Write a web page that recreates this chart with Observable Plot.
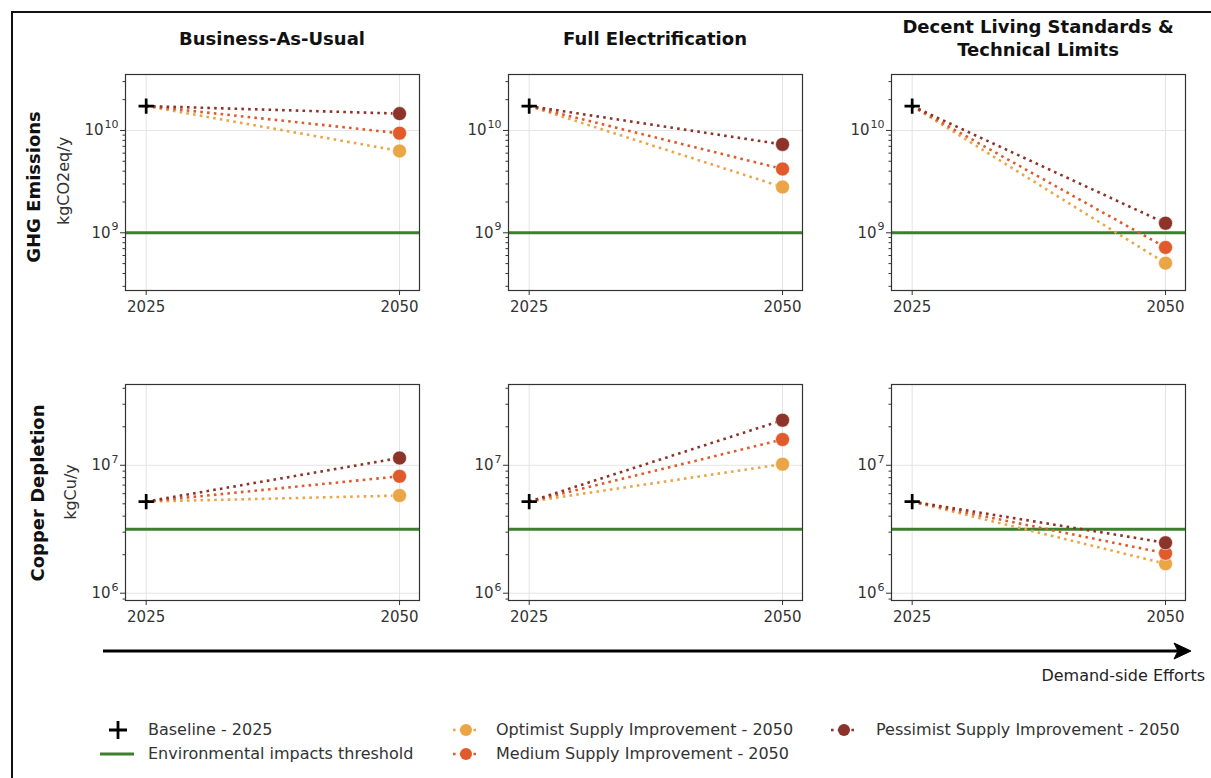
<!DOCTYPE html>
<html>
<head>
<meta charset="utf-8">
<script src="https://cdn.jsdelivr.net/npm/d3@7"></script>
<script src="https://cdn.jsdelivr.net/npm/@observablehq/plot@0.6"></script>
<style>
  html, body { margin: 0; padding: 0; background: #fff; }
  #fig { position: relative; width: 1211px; height: 778px; overflow: hidden; background: #fff;
         font-family: "DejaVu Sans", sans-serif; color: #222; }
  .border { position: absolute; left: 11px; top: 11px; width: 1400px; height: 1000px;
            border-left: 2px solid #111; border-top: 2px solid #111; }
  .title { position: absolute; font-family: "DejaVu Sans", sans-serif; font-weight: bold; font-size: 18px;
           line-height: 23px; text-align: center; color: #111; transform: translateX(-50%); white-space: nowrap; }
  .rowlab { position: absolute; white-space: nowrap; transform: translate(-50%, -50%) rotate(-90deg);
            color: #111; }
  .rowlab.big { font-weight: bold; font-size: 18px; }
  .rowlab.unit { font-size: 16px; color: #333; }
  .panel { position: absolute; }
  .leg { position: absolute; font-size: 16px; line-height: 20px; white-space: nowrap; color: #333; }
  .legicon { position: absolute; }
</style>
</head>
<body>
<div id="fig"><div class="border"></div></div>
<script>
// ---------------- data ----------------
const scenarios = ["Business-As-Usual", "Full Electrification", "Decent Living Standards & Technical Limits"];
const titleLines = [["Business-As-Usual"], ["Full Electrification"], ["Decent Living Standards &", "Technical Limits"]];
const years = [2025, 2050];
const seriesNames = ["Optimist Supply Improvement - 2050", "Medium Supply Improvement - 2050", "Pessimist Supply Improvement - 2050"];
const seriesColors = ["#EAA646", "#E05A2C", "#8C3429"];

// GHG Emissions (kgCO2eq/y)
const ghgBaseline = 1.73e10;
const ghgOptimist = [6.3e9, 2.8e9, 5.05e8];
const ghgMedium = [9.4e9, 4.2e9, 7.2e8];
const ghgPessimist = [1.46e10, 7.3e9, 1.24e9];
const ghgThreshold = 1e9;
const ghgTicks = [1e9, 1e10];
const ghgTickBase = ["10", "10"];
const ghgTickExp = ["9", "10"];
const ghgDomain = [2.73e8, 3.52e10];

// Copper Depletion (kgCu/y)
const cuBaseline = 5.2e6;
const cuOptimist = [5.8e6, 1.02e7, 1.7e6];
const cuMedium = [8.2e6, 1.59e7, 2.05e6];
const cuPessimist = [1.14e7, 2.25e7, 2.48e6];
const cuThreshold = 3.16e6;
const cuTicks = [1e6, 1e7];
const cuTickBase = ["10", "10"];
const cuTickExp = ["6", "7"];
const cuDomain = [8.77e5, 4.28e7];

const xTickLabels = ["2025", "2050"];
const xDomain = [2022.96, 2051.97];

const legendLabels = ["Baseline - 2025", "Environmental impacts threshold"];
const arrowLabel = "Demand-side Efforts";
const rowLabels = [["GHG Emissions", "kgCO2eq/y"], ["Copper Depletion", "kgCu/y"]];

// ---------------- layout ----------------
const fig = document.getElementById("fig");
const green = "#3E7F2E";
const PW = 294, PH = 216;
const ML = 62, MR = 14, MT = 12, MB = 40;
const panelLeft = [125, 508, 891];
const rowTop = [74, 384];
const tickFont = 15, expFont = 11;

function minorTicks(domain) {
  const out = [];
  const k0 = Math.floor(Math.log10(domain[0])), k1 = Math.ceil(Math.log10(domain[1]));
  for (let k = k0; k <= k1; k++) for (let m = 2; m <= 9; m++) {
    const v = m * Math.pow(10, k);
    if (v >= domain[0] && v <= domain[1]) out.push(v);
  }
  return out;
}

const rows = [
  {baseline: ghgBaseline, series: [ghgOptimist, ghgMedium, ghgPessimist], threshold: ghgThreshold,
   ticks: ghgTicks, base: ghgTickBase, exp: ghgTickExp, domain: ghgDomain},
  {baseline: cuBaseline, series: [cuOptimist, cuMedium, cuPessimist], threshold: cuThreshold,
   ticks: cuTicks, base: cuTickBase, exp: cuTickExp, domain: cuDomain}
];

rows.forEach((row, r) => {
  scenarios.forEach((sc, c) => {
    const marks = [
      Plot.ruleX(years, {x: d => d, stroke: "#e4e4e4", strokeWidth: 1}),
      Plot.ruleY(row.ticks, {y: d => d, stroke: "#e4e4e4", strokeWidth: 1}),
      Plot.ruleY([row.threshold], {y: d => d, stroke: green, strokeWidth: 3})
    ];
    row.series.forEach((vals, s) => {
      marks.push(Plot.link([vals[c]], {
        x1: () => years[0], y1: () => row.baseline, x2: () => years[1], y2: d => d,
        stroke: seriesColors[s], strokeWidth: 2.6, strokeDasharray: "2.6,4.2", strokeLinecap: "butt"
      }));
    });
    row.series.forEach((vals, s) => {
      marks.push(Plot.dot([vals[c]], {
        x: () => years[1], y: d => d, r: 7, fill: seriesColors[s], stroke: "#fff", strokeWidth: 0.6
      }));
    });
    marks.push(Plot.dot([row.baseline], {x: () => years[0], y: d => d, symbol: "plus", r: 5,
      stroke: "#000", strokeWidth: 2.7}));
    marks.push(Plot.frame({stroke: "#333", strokeWidth: 1.2}));
    marks.push(Plot.axisY(minorTicks(row.domain), {tickSize: 2.5, tickFormat: () => "", stroke: "#333", label: null}));
    marks.push(Plot.axisY(row.ticks, {tickSize: 5, tickFormat: () => "", stroke: "#333", label: null}));
    // tick labels "10" with raised exponent (mathtext-like)
    const expW = i => row.exp[i].length * 0.636 * expFont;
    marks.push(Plot.text(row.ticks, {y: d => d, frameAnchor: "left", textAnchor: "end",
      text: (d, i) => row.exp[i], dx: -7, dy: -6, fontSize: expFont, fill: "#333"}));
    marks.push(Plot.text(row.ticks, {y: d => d, frameAnchor: "left", textAnchor: "end",
      text: (d, i) => row.base[i], dx: 0, fontSize: tickFont, fill: "#333",
      transform: undefined}));
    marks.push(Plot.axisX(years, {tickSize: 5, tickPadding: 6, stroke: "#333", fill: "#333", label: null,
      tickFormat: d => xTickLabels[years.indexOf(d)], fontSize: tickFont}));

    const p = Plot.plot({
      width: PW + ML + MR, height: PH + MT + MB,
      marginLeft: ML, marginRight: MR, marginTop: MT, marginBottom: MB,
      style: {fontFamily: "DejaVu Sans", fontSize: "15px", background: "transparent", overflow: "visible", color: "#333"},
      x: {type: "linear", domain: xDomain, axis: null},
      y: {type: "log", domain: row.domain, axis: null},
      marks
    });
    // shift base "10" labels left of their exponents
    const textGroups = p.querySelectorAll("g[aria-label='text']");
    const baseGroup = textGroups[textGroups.length - 1];
    baseGroup.querySelectorAll("text").forEach((t, i) => {
      const shift = -7 - row.exp[i].length * 0.636 * expFont - 1;
      const tr = t.getAttribute("transform") || "";
      t.setAttribute("transform", tr + ` translate(${shift},0)`);
    });
    p.classList.add("panel");
    p.style.left = (panelLeft[c] - ML) + "px";
    p.style.top = (rowTop[r] - MT) + "px";
    fig.appendChild(p);
  });
});

// Column titles
const titleTop = [27, 27, 15];
titleLines.forEach((lines, c) => {
  const d = document.createElement("div");
  d.className = "title";
  d.style.left = (panelLeft[c] + PW / 2) + "px";
  d.style.top = titleTop[c] + "px";
  d.innerHTML = lines.map(l => l.replace("&", "&amp;")).join("<br>");
  fig.appendChild(d);
});

// Row labels
const rowLabX = [[33, 63], [37, 70]];
const rowLabY = [[187, 181], [493, 492]];
rowLabels.forEach((labs, r) => {
  labs.forEach((t, i) => {
    const d = document.createElement("div");
    d.className = "rowlab " + (i === 0 ? "big" : "unit");
    d.textContent = t;
    d.style.left = rowLabX[r][i] + "px";
    d.style.top = rowLabY[r][i] + "px";
    fig.appendChild(d);
  });
});

// Arrow
const ns = "http://www.w3.org/2000/svg";
const arrow = document.createElementNS(ns, "svg");
arrow.setAttribute("width", 1211); arrow.setAttribute("height", 778);
arrow.style.position = "absolute"; arrow.style.left = "0"; arrow.style.top = "0";
arrow.innerHTML = `<line x1="103" y1="651" x2="1178" y2="651" stroke="#000" stroke-width="3"/>
<path d="M1191,651 L1174,643 L1178,651 L1174,659 Z" fill="#000" stroke="#000" stroke-width="1"/>`;
fig.appendChild(arrow);
const al = document.createElement("div");
al.className = "leg";
al.style.right = (1211 - 1205) + "px";
al.style.top = "666px";
al.style.color = "#222";
al.textContent = arrowLabel;
fig.appendChild(al);

// Legend
function legIcon(x, y, html) {
  const s = document.createElementNS(ns, "svg");
  s.setAttribute("width", 40); s.setAttribute("height", 20);
  s.classList.add("legicon");
  s.style.left = (x - 20) + "px"; s.style.top = (y - 10) + "px";
  s.innerHTML = html;
  fig.appendChild(s);
}
function legText(x, y, t) {
  const d = document.createElement("div");
  d.className = "leg";
  d.style.left = x + "px"; d.style.top = (y - 10) + "px";
  d.textContent = t;
  fig.appendChild(d);
}
legIcon(118, 730, `<path d="M11,10 H29 M20,1 V19" stroke="#000" stroke-width="2.8"/>`);
legText(148, 730, legendLabels[0]);
legIcon(118, 754, `<line x1="2" y1="10" x2="36" y2="10" stroke="${green}" stroke-width="3"/>`);
legText(148, 754, legendLabels[1]);
const legPos = [[466, 730, 496], [466, 754, 496], [844, 730, 876]];
seriesNames.forEach((n, s) => {
  const [ix, iy, tx] = legPos[s];
  legIcon(ix, iy, `<line x1="7" y1="10" x2="33" y2="10" stroke="${seriesColors[s]}" stroke-width="2.6" stroke-dasharray="2.6,4.2"/>
    <circle cx="20" cy="10" r="6" fill="${seriesColors[s]}"/>`);
  legText(tx, iy, n);
});
</script>
</body>
</html>
